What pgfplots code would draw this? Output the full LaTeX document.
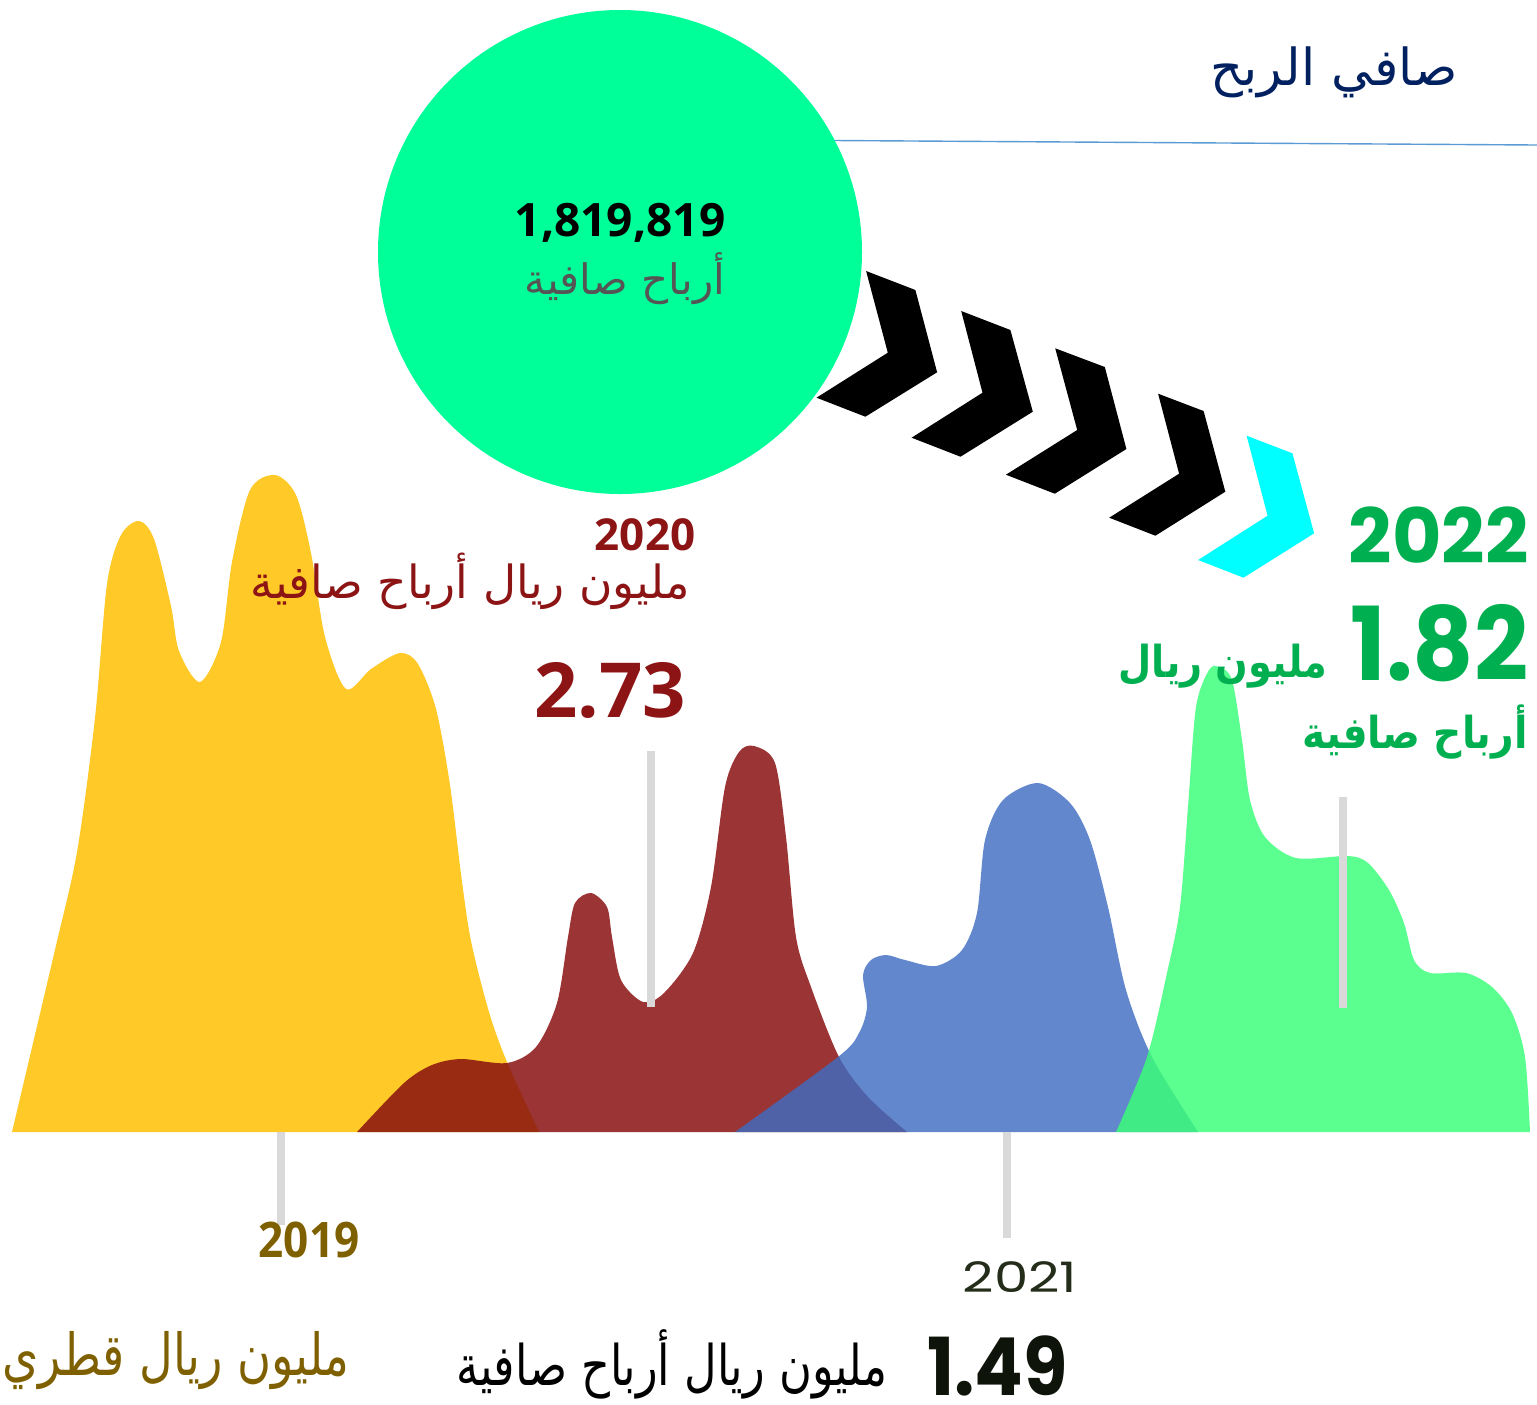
\documentclass[border=0pt]{standalone}
\usepackage{fontspec}
\usepackage{graphicx}
\usepackage{pgfplots}
\pgfplotsset{compat=1.18}
\TeXXeTstate=1
\newfontfamily\ar[Script=Arabic]{DejaVu Sans}
\newfontfamily\os{Open Sans}
\newfontfamily\pop{Poppins}
\definecolor{cyel}{RGB}{255,201,40}
\definecolor{cred}{RGB}{137,16,16}
\definecolor{cblue}{RGB}{63,108,193}
\definecolor{cgreen}{RGB}{58,255,120}
\definecolor{ccirc}{RGB}{0,255,153}
\definecolor{ccyan}{RGB}{0,255,255}
\definecolor{cnavy}{RGB}{0,32,96}
\definecolor{cline}{RGB}{91,155,213}
\definecolor{tred}{RGB}{140,20,20}
\definecolor{tgreen}{RGB}{0,176,80}
\definecolor{tgold}{RGB}{127,96,0}
\definecolor{tgray}{RGB}{85,85,85}
\definecolor{ctick}{RGB}{217,217,217}
\definecolor{tdark}{RGB}{35,45,25}
\definecolor{tblack}{RGB}{15,20,10}
\begin{document}
\begin{tikzpicture}
\begin{axis}[width=768.5pt,height=702pt,scale only axis,
  xmin=0,xmax=1537,ymin=0,ymax=1404,y dir=reverse,hide axis,clip=false]
% title line
\draw[cline,line width=0.7pt] (axis cs:600,139) -- (axis cs:1537,145);
% areas
\addplot[fill=cyel,draw=none,smooth] coordinates {(12,1132) (54,954) (77,852) (95,718) (107,584) (121,535) (139,521) (154,539) (171,606) (179,651) (200,682) (221,642) (232,562) (250,490) (275,475) (296,495) (311,553) (325,637) (346,689) (371,669) (400,653) (418,664) (436,709) (450,785) (461,874) (471,941) (489,1012) (507,1062) (539,1132)} -- cycle;
\addplot[fill=cred,fill opacity=0.85,draw=none,smooth] coordinates {(357,1132) (404,1083) (432,1065) (461,1059) (507,1063) (536,1047) (557,1003) (568,937) (575,903) (591,893) (607,907) (612,937) (621,980) (643,1002) (664,993) (693,953) (711,887) (725,787) (739,752) (754,746) (775,763) (786,837) (796,937) (811,987) (839,1057) (868,1097) (907,1132)} -- cycle;
\addplot[fill=cblue,fill opacity=0.82,draw=none,smooth] coordinates {(735,1132) (838,1057) (859,1033) (867,1007) (863,975) (871,960) (886,955) (905,960) (936,966) (962,950) (977,913) (985,840) (1003,800) (1038,783) (1070,803) (1090,840) (1108,907) (1126,990) (1152,1057) (1198,1132)} -- cycle;
\addplot[fill=cgreen,fill opacity=0.83,draw=none,smooth] coordinates {(1116,1132) (1147,1057) (1167,973) (1180,907) (1188,807) (1196,707) (1209,670) (1219,667) (1232,680) (1242,740) (1250,800) (1265,837) (1296,858) (1348,856) (1368,863) (1389,890) (1404,923) (1414,960) (1430,973) (1466,973) (1492,987) (1512,1013) (1525,1057) (1530,1132)} -- cycle;
% ticks
\addplot[ctick,line width=4pt] coordinates {(281,1132) (281,1225)};
\addplot[ctick,line width=4pt] coordinates {(651,751) (651,1007)};
\addplot[ctick,line width=4pt] coordinates {(1007,1132) (1007,1238)};
\addplot[ctick,line width=4pt] coordinates {(1343,797) (1343,1008)};
% circle
\fill[ccirc] (axis cs:620,252) circle[radius=121pt];
% chevrons
\fill[black] (axis cs:866.1,271) -- (axis cs:915.4,290) -- (axis cs:937.1,372.3) -- (axis cs:865.4,416.7) -- (axis cs:816.5,397.7) -- (axis cs:887.8,352.7) -- cycle;
\fill[black] (axis cs:961.2,311) -- (axis cs:1010.4,330) -- (axis cs:1032.8,411.7) -- (axis cs:960.5,456.7) -- (axis cs:911.6,437.7) -- (axis cs:982.5,392.7) -- cycle;
\fill[black] (axis cs:1055.2,348.3) -- (axis cs:1104.8,367) -- (axis cs:1126.4,449) -- (axis cs:1054.8,493.7) -- (axis cs:1005.9,474.7) -- (axis cs:1077.2,430) -- cycle;
\fill[black] (axis cs:1158.1,393.7) -- (axis cs:1203.6,411) -- (axis cs:1225.3,491.7) -- (axis cs:1155.4,535.7) -- (axis cs:1109.2,517.7) -- (axis cs:1179.1,473.7) -- cycle;
\fill[ccyan] (axis cs:1246.6,435.7) -- (axis cs:1292.4,453.3) -- (axis cs:1314.1,533.3) -- (axis cs:1243.5,577.7) -- (axis cs:1198.1,560) -- (axis cs:1267.6,515.7) -- cycle;
% texts
\node[anchor=base east,inner sep=0,text=cnavy,font=\ar\fontsize{25.5}{27}\selectfont] at (axis cs:1458,85) {\beginR صافي الربح\endR};
\node[anchor=base,inner sep=0,text=black,font=\os\bfseries\fontsize{23}{24}\selectfont] at (axis cs:620,236) {1,819,819};
\node[anchor=base,inner sep=0,text=tgray,font=\ar\fontsize{21}{23}\selectfont] at (axis cs:625,294) {\beginR أرباح صافية\endR};
\node[anchor=base,inner sep=0,text=tred,font=\os\bfseries\fontsize{22}{23}\selectfont] at (axis cs:645,550) {2020};
\node[anchor=base east,inner sep=0,text=tred,font=\ar\fontsize{22.8}{24}\selectfont] at (axis cs:690,598) {\beginR مليون ريال أرباح صافية\endR};
\node[anchor=base,inner sep=0,text=tred,font=\os\bfseries\fontsize{38}{40}\selectfont] at (axis cs:610,717) {2.73};
\node[anchor=base east,inner sep=0,text=tgreen,font=\pop\bfseries\fontsize{38}{40}\selectfont] at (axis cs:1529,563) {2022};
\node[anchor=base east,inner sep=0,text=tgreen,font=\pop\bfseries\fontsize{51}{53}\selectfont] at (axis cs:1529,680) {\scalebox{0.93}[1]{1.82}};
\node[anchor=base east,inner sep=0,text=tgreen,font=\ar\bfseries\fontsize{22}{24}\selectfont] at (axis cs:1328,677) {\scalebox{0.87}[1]{\beginR مليون ريال\endR}};
\node[anchor=base east,inner sep=0,text=tgreen,font=\ar\bfseries\fontsize{22}{24}\selectfont] at (axis cs:1528,748) {\scalebox{0.89}[1]{\beginR أرباح صافية\endR}};
\node[anchor=base,inner sep=0,text=tgold,font=\os\bfseries\fontsize{24.5}{26}\selectfont] at (axis cs:309,1257) {\scalebox{0.9}[1]{2019}};
\node[anchor=base east,inner sep=0,text=tgold,font=\ar\fontsize{29}{31}\selectfont] at (axis cs:350,1375) {\scalebox{0.8}[1]{\beginR مليون ريال قطري أرباح صافية\endR}};
\node[anchor=base,inner sep=0,text=tdark,font=\pop\fontsize{21}{23}\selectfont] at (axis cs:1020,1292) {\scalebox{1.3}[1]{2021}};
\node[anchor=base east,inner sep=0,text=tblack,font=\pop\bfseries\fontsize{40}{42}\selectfont] at (axis cs:1068,1395) {\scalebox{0.9}[1]{1.49}};
\node[anchor=base east,inner sep=0,text=black,font=\ar\fontsize{28}{30}\selectfont] at (axis cs:888,1385) {\scalebox{0.8}[1]{\beginR مليون ريال أرباح صافية\endR}};
\end{axis}
\pgfresetboundingbox
\useasboundingbox (current axis.south west) rectangle (current axis.north east);
\end{tikzpicture}
\end{document}
